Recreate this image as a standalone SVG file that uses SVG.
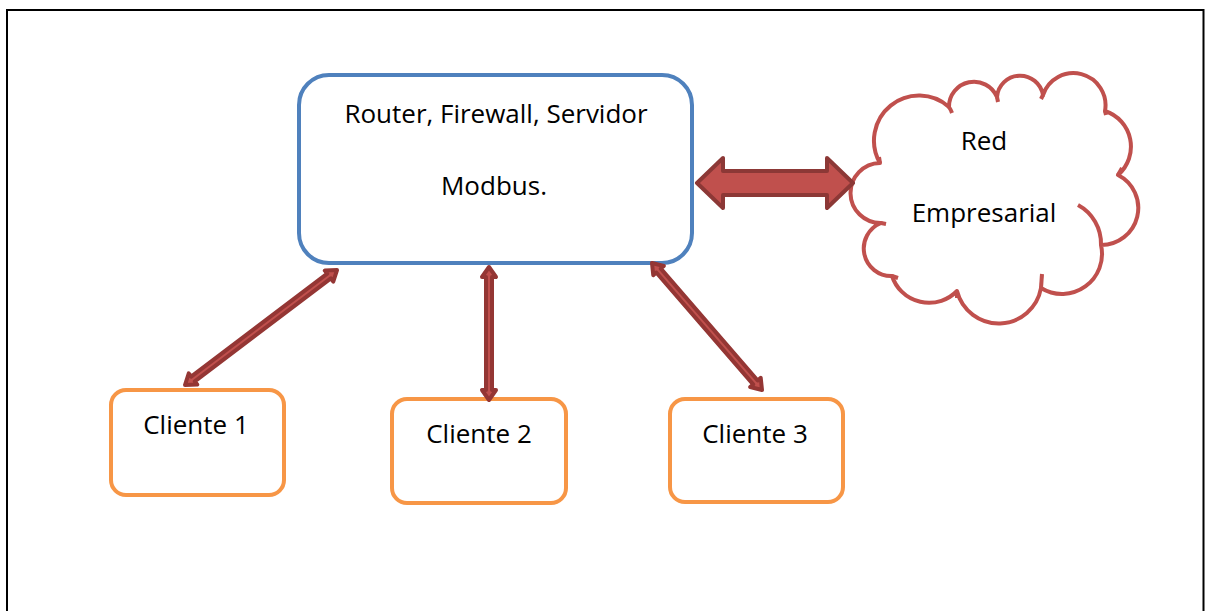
<svg xmlns="http://www.w3.org/2000/svg" width="1206" height="611" viewBox="0 0 1206 611">
  <style>
    .lbl { font-family: "Open Sans", "Liberation Sans", sans-serif; font-size: 26px; fill: #000; text-anchor: middle; }
    .hub { fill: #fff; stroke: #4F81BD; stroke-width: 4; }
    .client { fill: #fff; stroke: #F79646; stroke-width: 4; }
    .cloud { fill: #fff; stroke: #C0504D; stroke-width: 4; stroke-linejoin: round; stroke-linecap: butt; }
    .tail { fill: none; stroke: #C0504D; stroke-width: 4; }
    .link { fill: #C0504D; stroke: #943634; stroke-width: 4; stroke-linejoin: round; }
    .wan { fill: #C0504D; stroke: #8C3836; stroke-width: 4; stroke-linejoin: round; }
  </style>

  <rect width="1206" height="611" fill="#fff"/>
  <!-- page frame -->
  <path d="M7,611 V10 H1203.5 V611" fill="none" stroke="#000" stroke-width="2"/>

  <!-- central router / firewall / Modbus server -->
  <g id="hub">
    <rect class="hub" x="299" y="75" width="393" height="188" rx="30"/>
    <text class="lbl" x="496" y="123">Router, Firewall, Servidor</text>
    <text class="lbl" x="494" y="195">Modbus.</text>
  </g>

  <!-- enterprise network cloud -->
  <g id="cloud">
    <path class="cloud" d="M880,163
      A45,45 0 0 1 949,107
      A25,25 0 0 1 997,97
      A23.2,23.2 0 0 1 1043,95
      A32.1,32.1 0 0 1 1105,111
      A37.5,37.5 0 0 1 1118,175
      A37,37 0 0 1 1101,245
      A40,40 0 0 1 1041,288
      A43,43 0 0 1 957,291
      A39,39 0 0 1 892,276
      A27.5,27.5 0 0 1 881,223
      A30,30 0 0 1 880,163 Z"/>
    <path class="tail" d="M949,107 Q951,110 952,113"/>
    <path class="tail" d="M997,97 L998,102"/>
    <path class="tail" d="M1043,95 L1041,99"/>
    <path class="tail" d="M1105,111 L1106,115"/>
    <path class="tail" d="M1118,175 L1122,168"/>
    <path class="tail" d="M1078,205 A44,44 0 0 1 1101,245"/>
    <path class="tail" d="M1041,288 L1042,274"/>
    <path class="tail" d="M957,291 L957,298"/>
    <path class="tail" d="M892,276 L898,278"/>
    <path class="tail" d="M881,223 L886,224"/>
    <path class="tail" d="M880,163 L879,157"/>
    <text class="lbl" x="984" y="150">Red</text>
    <text class="lbl" x="984" y="222">Empresarial</text>
  </g>

  <!-- clients -->
  <g id="client1">
    <rect class="client" x="111" y="390" width="173" height="105" rx="15"/>
    <text class="lbl" x="196" y="434">Cliente 1</text>
  </g>
  <g id="client2">
    <rect class="client" x="392" y="399" width="174" height="104" rx="15"/>
    <text class="lbl" x="479" y="443">Cliente 2</text>
  </g>
  <g id="client3">
    <rect class="client" x="670" y="399" width="173" height="103" rx="15"/>
    <text class="lbl" x="755" y="443">Cliente 3</text>
  </g>

  <!-- bidirectional links -->
  <g id="connectors">
    <path class="wan" d="M697,183 L723,158 L723,171 L827,171 L827,158 L853,183 L827,208 L827,195 L723,195 L723,208 Z"/>
    <!-- hub to client 1 -->
    <path class="link" transform="translate(185,385) rotate(-37.1)"
      d="M0,0 L10,-7 L10,-3 L180.6,-3 L180.6,-7 L190.6,0 L180.6,7 L180.6,3 L10,3 L10,7 Z"/>
    <!-- hub to client 2 -->
    <path class="link" transform="translate(489,267) rotate(90)"
      d="M0,0 L10,-7 L10,-3 L123,-3 L123,-7 L133,0 L123,7 L123,3 L10,3 L10,7 Z"/>
    <!-- hub to client 3 -->
    <path class="link" transform="translate(652,263) rotate(49.1)"
      d="M0,0 L10,-7 L10,-3 L158,-3 L158,-7 L168,0 L158,7 L158,3 L10,3 L10,7 Z"/>
  </g>
</svg>
